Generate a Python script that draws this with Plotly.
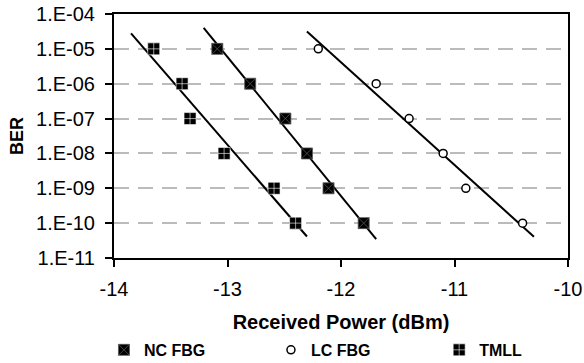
import numpy as np
import plotly.graph_objects as go

# data
ber_levels = [1e-5, 1e-6, 1e-7, 1e-8, 1e-9, 1e-10]
nc_power = [-13.09, -12.80, -12.49, -12.30, -12.11, -11.80]
lc_power = [-12.20, -11.69, -11.40, -11.10, -10.90, -10.40]
tmll_power = [-13.65, -13.40, -13.33, -13.03, -12.59, -12.40]
# trendline extents (forecast range, dBm)
nc_trend_x = [-13.21, -11.69]
lc_trend_x = [-12.30, -10.30]
tmll_trend_x = [-13.85, -12.30]

ytick_vals = [1e-4, 1e-5, 1e-6, 1e-7, 1e-8, 1e-9, 1e-10, 1e-11]
ytick_text = ["1.E-04", "1.E-05", "1.E-06", "1.E-07", "1.E-08", "1.E-09", "1.E-10", "1.E-11"]
xtick_vals = [-14, -13, -12, -11, -10]

FONT = "Liberation Sans, Arial, sans-serif"

def trend(px, ber, xr):
    k, b = np.polyfit(px, np.log10(ber), 1)
    xs = np.array(xr)
    return xs, 10 ** (k * xs + b)

fig = go.Figure()

for px, xr in [(nc_power, nc_trend_x), (lc_power, lc_trend_x), (tmll_power, tmll_trend_x)]:
    tx, ty = trend(px, ber_levels, xr)
    fig.add_trace(go.Scatter(x=tx, y=ty, mode="lines", line=dict(color="black", width=2),
                             showlegend=False, hoverinfo="skip"))

fig.add_trace(go.Scatter(x=nc_power, y=ber_levels, mode="markers", name="<b>NC FBG</b>",
                         marker=dict(symbol="square-x", size=11, color="black",
                                     line=dict(color="#555555", width=0.8))))
fig.add_trace(go.Scatter(x=lc_power, y=ber_levels, mode="markers", name="<b>LC FBG</b>",
                         marker=dict(symbol="circle", size=8, color="white",
                                     line=dict(color="black", width=1.5))))
fig.add_trace(go.Scatter(x=tmll_power, y=ber_levels, mode="markers", name="<b>TMLL</b>",
                         legend="legend2",
                         marker=dict(symbol="square-cross", size=12, color="black",
                                     line=dict(color="white", width=0.6))))

legend_common = dict(orientation="h", xref="container", yref="container",
                     xanchor="left", y=0.036, yanchor="middle",
                     entrywidth=122, entrywidthmode="pixels", itemwidth=30,
                     font=dict(size=16, family=FONT), bgcolor="rgba(0,0,0,0)")

fig.update_layout(
    width=584, height=363,
    margin=dict(l=114, r=16, t=14, b=105),
    paper_bgcolor="white", plot_bgcolor="white",
    font=dict(family=FONT, color="black"),
    xaxis=dict(range=[-14, -10], tickvals=xtick_vals, ticktext=[str(v) for v in xtick_vals],
               automargin=False, ticklabelstandoff=5,
               showgrid=False, zeroline=False, showline=True, linecolor="black", linewidth=2,
               mirror=True, ticks="outside", ticklen=7, tickwidth=2, tickcolor="black",
               tickfont=dict(size=20, family=FONT),
               title=dict(text="<b>Received Power (dBm)</b>", font=dict(size=20, family=FONT), standoff=20)),
    yaxis=dict(type="log", range=[-11, -4], tickvals=ytick_vals, ticktext=ytick_text,
               automargin=False, ticklabelstandoff=6,
               showgrid=True, gridcolor="#bbbbbb", griddash="15px,9px", gridwidth=1.5,
               zeroline=False, showline=True, linecolor="black", linewidth=2,
               mirror=True, ticks="outside", ticklen=7, tickwidth=2, tickcolor="black",
               tickfont=dict(size=20, family=FONT),
               title=dict(text="<b>BER</b>", font=dict(size=18, family=FONT), standoff=8)),
    legend=dict(x=0.178, **legend_common),
    legend2=dict(x=0.752, **legend_common),
)

fig.write_html("out.html", post_script="document.body.style.margin='0';",
               config={"displayModeBar": False})
